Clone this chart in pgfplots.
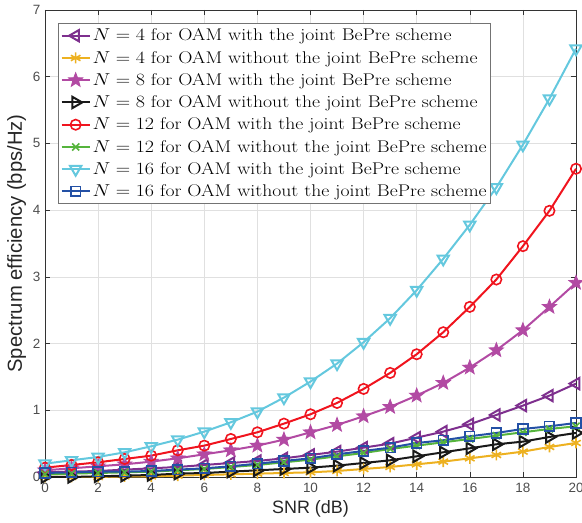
\documentclass[border=0pt]{standalone}
\usepackage{fontspec}
\setsansfont{Liberation Sans}
\usepackage{graphicx}
\usepackage{pgfplots}
\pgfplotsset{compat=1.18}
\definecolor{cpur}{RGB}{126,47,142}
\definecolor{cyel}{RGB}{237,177,32}
\definecolor{cmag}{RGB}{178,74,163}
\definecolor{cred}{RGB}{240,20,30}
\definecolor{cgre}{RGB}{85,180,60}
\definecolor{ccya}{RGB}{100,200,222}
\definecolor{cblu}{RGB}{35,80,165}
\definecolor{ctick}{RGB}{77,77,77}
\newcommand{\leg}[1]{\scalebox{1.16}[1]{#1}}
\pgfdeclareplotmark{pentagram}{%
  \pgfpathmoveto{\pgfpointpolar{90}{\pgfplotmarksize}}%
  \pgfpathlineto{\pgfpointpolar{126}{0.42\pgfplotmarksize}}%
  \pgfpathlineto{\pgfpointpolar{162}{\pgfplotmarksize}}%
  \pgfpathlineto{\pgfpointpolar{198}{0.42\pgfplotmarksize}}%
  \pgfpathlineto{\pgfpointpolar{234}{\pgfplotmarksize}}%
  \pgfpathlineto{\pgfpointpolar{270}{0.42\pgfplotmarksize}}%
  \pgfpathlineto{\pgfpointpolar{306}{\pgfplotmarksize}}%
  \pgfpathlineto{\pgfpointpolar{342}{0.42\pgfplotmarksize}}%
  \pgfpathlineto{\pgfpointpolar{18}{\pgfplotmarksize}}%
  \pgfpathlineto{\pgfpointpolar{54}{0.42\pgfplotmarksize}}%
  \pgfpathclose\pgfusepathqfillstroke}
\begin{document}
\begin{tikzpicture}
\begin{axis}[name=ax,
  scale only axis, width=531bp, height=467bp,
  xmin=0, xmax=20, ymin=0, ymax=7,
  xtick={0,2,...,20}, ytick={0,1,...,7},
  grid=major, major grid style={draw=black!12, line width=0.5bp},
  axis line style={draw=black!80, line width=0.6bp},
  tick style={draw=black!80, line width=0.6bp},
  major tick length=5bp,
  clip=false,
  /pgf/number format/assume math mode=true,
  ticklabel style={font=\sffamily\fontsize{13.5}{15}\selectfont, text=ctick},
  xticklabel style={yshift=-3bp},
  yticklabel style={xshift=-1bp},
  xlabel style={font=\sffamily\fontsize{18}{20}\selectfont, text=black!85, yshift=-1bp},
  ylabel style={font=\sffamily\fontsize{20.3}{22}\selectfont, text=black!85, yshift=0bp},
  xlabel={SNR (dB)}, ylabel={Spectrum efficiency (bps/Hz)},
  every axis plot/.append style={line width=2bp, mark options={solid, line width=1.6bp}},
  legend cell align=left,
  legend style={at={(0.025,0.972)}, anchor=north west, draw=black!55, line width=0.8bp,
    font=\fontsize{17}{20}\selectfont, row sep=4.8bp, inner xsep=2bp, inner ysep=3.5bp},
  legend image code/.code={\draw[mark repeat=2,mark phase=2] plot coordinates {(0bp,0bp) (14bp,0bp) (28bp,0bp)};},
]
\addplot[color=cpur, mark=triangle, mark size=6.5bp, mark options={rotate=90}] coordinates {
(0,0.07)(1,0.08)(2,0.09)(3,0.11)(4,0.13)(5,0.15)(6,0.18)(7,0.21)(8,0.24)(9,0.28)(10,0.33)
(11,0.38)(12,0.44)(13,0.50)(14,0.59)(15,0.68)(16,0.79)(17,0.93)(18,1.07)(19,1.22)(20,1.40)};
\addlegendentry{\leg{$N=4$ for OAM with the joint BePre scheme}}
\addplot[color=cyel, mark=asterisk, mark size=5.5bp] coordinates {
(0,0.00)(1,0.00)(2,0.00)(3,0.01)(4,0.01)(5,0.02)(6,0.03)(7,0.04)(8,0.05)(9,0.06)(10,0.07)
(11,0.09)(12,0.12)(13,0.15)(14,0.19)(15,0.23)(16,0.28)(17,0.33)(18,0.38)(19,0.45)(20,0.51)};
\addlegendentry{\leg{$N=4$ for OAM without the joint BePre scheme}}
\addplot[color=cmag, mark=pentagram, mark size=7.5bp, mark options={fill=cmag, line width=0.8bp}] coordinates {
(0,0.10)(1,0.13)(2,0.16)(3,0.19)(4,0.23)(5,0.28)(6,0.34)(7,0.40)(8,0.47)(9,0.56)(10,0.67)
(11,0.78)(12,0.91)(13,1.05)(14,1.22)(15,1.41)(16,1.64)(17,1.90)(18,2.20)(19,2.55)(20,2.91)};
\addlegendentry{\leg{$N=8$ for OAM with the joint BePre scheme}}
\addplot[color=black!90, mark=triangle, mark size=6.5bp, mark options={rotate=-90}] coordinates {
(0,0.00)(1,0.00)(2,0.01)(3,0.02)(4,0.03)(5,0.05)(6,0.06)(7,0.08)(8,0.10)(9,0.12)(10,0.14)
(11,0.17)(12,0.21)(13,0.25)(14,0.31)(15,0.37)(16,0.43)(17,0.49)(18,0.53)(19,0.60)(20,0.66)};
\addlegendentry{\leg{$N=8$ for OAM without the joint BePre scheme}}
\addplot[color=cred, mark=o, mark size=5.2bp] coordinates {
(0,0.14)(1,0.18)(2,0.22)(3,0.27)(4,0.32)(5,0.40)(6,0.47)(7,0.57)(8,0.67)(9,0.80)(10,0.94)
(11,1.11)(12,1.32)(13,1.56)(14,1.84)(15,2.17)(16,2.55)(17,2.96)(18,3.46)(19,3.99)(20,4.62)};
\addlegendentry{\leg{$N=12$ for OAM with the joint BePre scheme}}
\addplot[color=cgre, mark=x, mark size=5bp] coordinates {
(0,0.04)(1,0.05)(2,0.06)(3,0.07)(4,0.08)(5,0.10)(6,0.12)(7,0.15)(8,0.18)(9,0.22)(10,0.26)
(11,0.31)(12,0.36)(13,0.42)(14,0.47)(15,0.52)(16,0.57)(17,0.62)(18,0.67)(19,0.72)(20,0.76)};
\addlegendentry{\leg{$N=12$ for OAM without the joint BePre scheme}}
\addplot[color=ccya, mark=triangle, mark size=6.5bp, mark options={rotate=180}] coordinates {
(0,0.20)(1,0.25)(2,0.30)(3,0.37)(4,0.46)(5,0.56)(6,0.68)(7,0.82)(8,0.98)(9,1.19)(10,1.43)
(11,1.70)(12,2.02)(13,2.38)(14,2.80)(15,3.27)(16,3.78)(17,4.34)(18,4.98)(19,5.67)(20,6.42)};
\addlegendentry{\leg{$N=16$ for OAM with the joint BePre scheme}}
\addplot[color=cblu, mark=square, mark size=4.8bp] coordinates {
(0,0.06)(1,0.07)(2,0.08)(3,0.08)(4,0.09)(5,0.11)(6,0.13)(7,0.16)(8,0.20)(9,0.24)(10,0.28)
(11,0.34)(12,0.39)(13,0.44)(14,0.51)(15,0.55)(16,0.61)(17,0.66)(18,0.72)(19,0.76)(20,0.81)};
\addlegendentry{\leg{$N=16$ for OAM without the joint BePre scheme}}
\end{axis}
\pgfresetboundingbox
\path[use as bounding box] ([xshift=-45bp,yshift=-46bp]ax.south west) rectangle ([xshift=6bp,yshift=10bp]ax.north east);
\end{tikzpicture}
\end{document}
